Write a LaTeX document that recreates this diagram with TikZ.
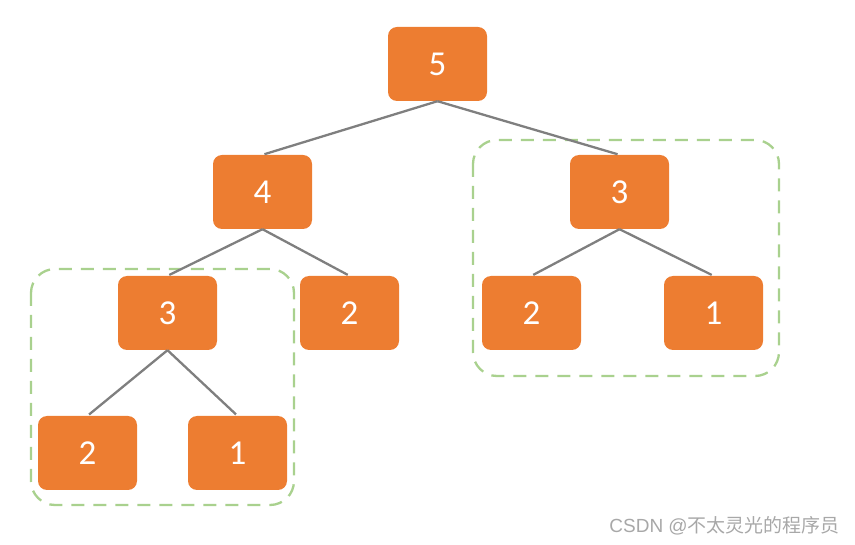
\documentclass[tikz,border=0pt]{standalone}
\usepackage{fontspec}
\setmainfont{Carlito}
\newfontfamily\cjkfont{Noto Sans CJK SC}
\newfontfamily\latinmark{Liberation Sans}
\definecolor{boxorange}{HTML}{ED7D31}
\definecolor{edgegray}{HTML}{7F7F7F}
\definecolor{groupgreen}{HTML}{A9D18E}
\definecolor{markgray}{HTML}{A8A8A8}
\begin{document}
\begin{tikzpicture}[x=1pt,y=-1pt,
  treebox/.style={draw=none,fill=boxorange,rounded corners=9pt,minimum width=99pt,minimum height=74pt,inner sep=0pt,text=white,font=\fontsize{35}{35}\selectfont},
  edge/.style={draw=edgegray,line width=2.3pt,shorten >=2pt},
  group/.style={draw=groupgreen,line width=2.3pt,rounded corners=24pt,dash pattern=on 13pt off 9pt}]
\useasboundingbox (0,0) rectangle (855,545);
% groups
\draw[group] (31,269) rectangle (294,505);
\draw[group] (473,140) rectangle (779,376);
% nodes
\node[treebox] (n5) at (437.5,64) {5};
\node[treebox] (n4) at (262.5,192) {4};
\node[treebox] (r3) at (619.5,192) {3};
\node[treebox] (l3) at (167.5,313) {3};
\node[treebox] (m2) at (349.5,313) {2};
\node[treebox] (r2) at (531.5,313) {2};
\node[treebox] (r1) at (713.5,313) {1};
\node[treebox] (b2) at (87.5,453) {2};
\node[treebox] (b1) at (237.5,453) {1};
% edges
\draw[edge] (n5.south) -- (n4.north);
\draw[edge] (n5.south) -- (r3.north);
\draw[edge] (n4.south) -- (l3.north);
\draw[edge] (n4.south) -- (m2.north);
\draw[edge] (r3.south) -- (r2.north);
\draw[edge] (r3.south) -- (r1.north);
\draw[edge] (l3.south) -- (b2.north);
\draw[edge] (l3.south) -- (b1.north);
% watermark
\node[anchor=east,text=markgray,inner sep=0pt,font=\fontsize{19}{19}\selectfont] (wm) at (840,526) {\latinmark CSDN @\cjkfont 不太灵光的程序员};
\end{tikzpicture}
\end{document}
